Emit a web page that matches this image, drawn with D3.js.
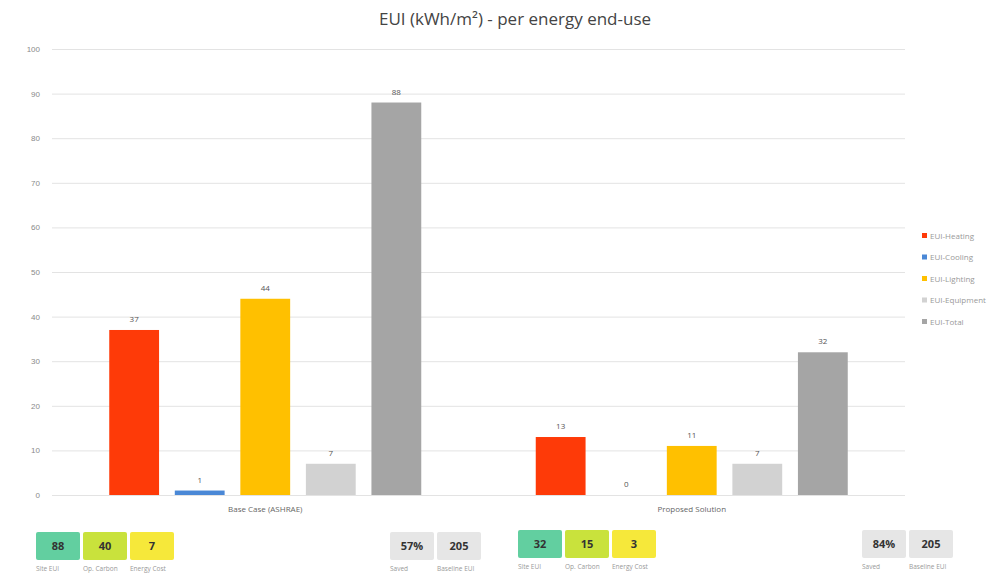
<!DOCTYPE html>
<html>
<head>
<meta charset="utf-8">
<script src="https://cdn.jsdelivr.net/npm/d3@7"></script>
<style>
  body { margin: 0; background: #fff; font-family: "Open Sans", "Noto Sans", sans-serif; }
</style>
</head>
<body>
<div id="chart"></div>
<script>
// chart data
const scenarios = ['Base Case (ASHRAE)', 'Proposed Solution'];
const endUses = ['EUI-Heating', 'EUI-Cooling', 'EUI-Lighting', 'EUI-Equipment', 'EUI-Total'];
const baseValues = [37, 1, 44, 7, 88];
const proposedValues = [13, 0, 11, 7, 32];
const yTicks = [0, 10, 20, 30, 40, 50, 60, 70, 80, 90, 100];
const colors = ['#fe3a08', '#4a88d6', '#ffc000', '#d2d2d2', '#a5a5a5'];

// KPI cards under each scenario
const cardLabels = ['Site EUI', 'Op. Carbon', 'Energy Cost'];
const cardColors = ['#62cfa0', '#c9e23c', '#f6e83a'];
const baseCards = [88, 40, 7];
const proposedCards = [32, 15, 3];
const savedLabels = ['Saved', 'Baseline EUI'];
const baseSaved = ['57%', '205'];
const proposedSaved = ['84%', '205'];

const w = 1006, h = 586;
const svg = d3.select('#chart').append('svg').attr('width', w).attr('height', h);

const x0 = 52, x1 = 905;
const yScale = d3.scaleLinear().domain([0, 100]).range([495, 49]);
const groupScale = d3.scaleBand().domain(scenarios).range([x0, x1]);
const barScale = d3.scaleBand().domain(endUses).range([-156, 156]).paddingInner(0.24);

// title
svg.append('text').attr('x', 515).attr('y', 25).attr('text-anchor', 'middle')
  .attr('font-size', 17).attr('fill', '#444').text('EUI (kWh/m²) - per energy end-use');

// grid
const yAxis = d3.axisLeft(yScale).tickValues(yTicks).tickSize(-(x1 - x0)).tickPadding(12);
const gy = svg.append('g').attr('transform', `translate(${x0},0)`).call(yAxis);
gy.select('.domain').remove();
gy.selectAll('.tick line').attr('stroke', '#e3e3e3');
gy.selectAll('.tick text').attr('fill', '#8a8a8a').attr('font-size', 8);

// bars
const series = [baseValues, proposedValues];
scenarios.forEach((s, gi) => {
  const cx = groupScale(s) + groupScale.bandwidth() / 2;
  const g = svg.append('g').attr('transform', `translate(${cx},0)`);
  const rows = endUses.map((k, i) => ({ k, v: series[gi][i], c: colors[i] }));
  g.selectAll('rect').data(rows).enter().append('rect')
    .attr('x', d => barScale(d.k))
    .attr('y', d => yScale(d.v))
    .attr('width', barScale.bandwidth())
    .attr('height', d => yScale(0) - yScale(d.v))
    .attr('fill', d => d.c);
  g.selectAll('text.val').data(rows).enter().append('text')
    .attr('class', 'val')
    .attr('x', d => barScale(d.k) + barScale.bandwidth() / 2)
    .attr('y', d => yScale(d.v) - 8)
    .attr('text-anchor', 'middle').attr('font-size', 8).attr('fill', '#555')
    .text(d => d.v);
  g.append('text').attr('x', 0).attr('y', 512).attr('text-anchor', 'middle')
    .attr('font-size', 8).attr('fill', '#666').text(s);
});

// legend
const lg = svg.append('g').attr('transform', 'translate(922,236)');
endUses.forEach((k, i) => {
  lg.append('rect').attr('x', 0).attr('y', i * 21.5 - 3).attr('width', 5).attr('height', 5).attr('fill', colors[i]);
  lg.append('text').attr('x', 8).attr('y', i * 21.5 + 2.5).attr('font-size', 8).attr('fill', '#999').text(k);
});

// KPI cards
function cards(x, y, vals, labels, fills) {
  const g = svg.append('g').attr('transform', `translate(${x},${y})`);
  vals.forEach((v, i) => {
    const cx = i * 47;
    g.append('rect').attr('x', cx).attr('y', 0).attr('width', 44).attr('height', 28)
      .attr('rx', 2).attr('fill', fills[i]);
    g.append('text').attr('x', cx + 22).attr('y', 18).attr('text-anchor', 'middle')
      .attr('font-size', 11).attr('font-weight', 'bold').attr('fill', '#333').text(v);
    g.append('text').attr('x', cx).attr('y', 39).attr('font-size', 6.5).attr('fill', '#999').text(labels[i]);
  });
}
cards(36, 532, baseCards, cardLabels, cardColors);
cards(390, 532, baseSaved, savedLabels, ['#e6e6e6', '#e6e6e6']);
cards(518, 530, proposedCards, cardLabels, cardColors);
cards(862, 530, proposedSaved, savedLabels, ['#e6e6e6', '#e6e6e6']);
</script>
</body>
</html>
